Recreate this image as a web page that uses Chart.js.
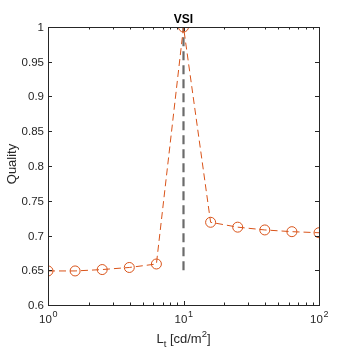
<!DOCTYPE html>
<html>
<head>
<meta charset="utf-8">
<script src="https://cdn.jsdelivr.net/npm/chart.js@4.4.0/dist/chart.umd.min.js"></script>
<style>
  html, body { margin: 0; padding: 0; background: #fff; }
  #wrap { width: 354px; height: 354px; }
</style>
</head>
<body>
<div id="wrap"><canvas id="vsi"></canvas></div>
<script>
// luminance values (cd/m^2) and quality scores
var lum = [1, 1.585, 2.512, 3.981, 6.31, 10, 15.85, 25.12, 39.81, 63.1, 100];
var quality = [0.649, 0.649, 0.651, 0.654, 0.659, 1.0, 0.719, 0.712, 0.708, 0.7055, 0.704];
var refX = [10, 10];
var refY = [0.65, 1.0];
var yTicks = [0.6, 0.65, 0.7, 0.75, 0.8, 0.85, 0.9, 0.95, 1];
var xDecades = [1, 10, 100];

var axisCol = "#262626";
var font = "Helvetica, 'Liberation Sans', Arial, sans-serif";

var pts = [];
for (var i in lum) pts.push({x: lum[i], y: quality[i]});
var refPts = [];
for (var j in refX) refPts.push({x: refX[j], y: refY[j]});

// draws box, inward ticks, labels in MATLAB style
var matlabAxes = {
  id: "matlabAxes",
  afterDraw: function(chart) {
    var c = chart.ctx, a = chart.chartArea;
    var xs = chart.scales.x, ys = chart.scales.y;
    c.save();
    c.strokeStyle = axisCol;
    c.lineWidth = 1;
    c.strokeRect(Math.round(a.left) + 0.5, Math.round(a.top) + 0.5,
      Math.round(a.right - a.left), Math.round(a.bottom - a.top));

    c.fillStyle = axisCol;
    c.font = "11.5px " + font;
    c.textAlign = "right";
    c.textBaseline = "middle";
    yTicks.forEach(function(v) {
      var py = Math.round(ys.getPixelForValue(v)) + 0.5;
      c.beginPath();
      c.moveTo(a.left, py); c.lineTo(a.left + 4, py);
      c.moveTo(a.right, py); c.lineTo(a.right - 4, py);
      c.stroke();
      c.fillText(String(v), a.left - 4, py);
    });

    // x: major + minor ticks
    for (var d = 0; d < 2; d++) {
      for (var m = 1; m <= 9; m++) {
        var v = Math.pow(10, d) * m;
        var px = Math.round(xs.getPixelForValue(v)) + 0.5;
        var len = m === 1 ? 4 : 2.5;
        c.beginPath();
        c.moveTo(px, a.bottom); c.lineTo(px, a.bottom - len);
        c.moveTo(px, a.top); c.lineTo(px, a.top + len);
        c.stroke();
      }
    }
    xDecades.forEach(function(v, k) {
      var px = xs.getPixelForValue(v);
      var base = "10", sup = String(k);
      c.font = "11.5px " + font;
      var w1 = c.measureText(base).width;
      c.font = "9px " + font;
      var w2 = c.measureText(sup).width;
      var x0 = px - (w1 + w2) / 2;
      c.textAlign = "left";
      c.textBaseline = "alphabetic";
      c.font = "11.5px " + font;
      c.fillText(base, x0, a.bottom + 18);
      c.font = "9px " + font;
      c.fillText(sup, x0 + w1 + 0.5, a.bottom + 12);
    });

    // x axis title L_t [cd/m^2]
    var cx = (a.left + a.right) / 2;
    var parts = [["L", 13, 0], ["t", 9.5, 4], [" [cd/m", 13, 0], ["2", 9.5, -6], ["]", 13, 0]];
    var total = 0;
    parts.forEach(function(p) { c.font = p[1] + "px " + font; total += c.measureText(p[0]).width; });
    var xx = cx - total / 2, by = a.bottom + 38;
    parts.forEach(function(p) {
      c.font = p[1] + "px " + font;
      c.fillText(p[0], xx, by + p[2]);
      xx += c.measureText(p[0]).width;
    });

    // y axis title
    c.save();
    c.translate(12, (a.top + a.bottom) / 2 - 2);
    c.rotate(-Math.PI / 2);
    c.textAlign = "center";
    c.textBaseline = "middle";
    c.font = "13px " + font;
    c.fillText("Quality", 0, 0);
    c.restore();

    // title
    c.font = "bold 12px " + font;
    c.textAlign = "center";
    c.textBaseline = "alphabetic";
    c.fillStyle = "#000";
    c.fillText("VSI", cx, a.top - 4);
    c.restore();
  }
};

new Chart(document.getElementById("vsi"), {
  type: "line",
  data: {
    datasets: [
      {
        label: "VSI",
        data: pts,
        borderColor: "#D95319",
        backgroundColor: "rgba(0,0,0,0)",
        borderWidth: 1,
        borderDash: [7, 4],
        pointRadius: 5,
        pointBorderWidth: 1,
        pointBorderColor: "#D95319",
        pointBackgroundColor: "rgba(0,0,0,0)",
        tension: 0,
        order: 1
      },
      {
        label: "ref",
        data: refPts,
        borderColor: "#6b6b6b",
        borderWidth: 2.2,
        borderDash: [9, 5],
        pointRadius: 0,
        order: 2
      }
    ]
  },
  options: {
    responsive: true,
    maintainAspectRatio: false,
    animation: false,
    layout: { padding: { left: 48, right: 35, top: 27, bottom: 49 } },
    plugins: { legend: { display: false }, tooltip: { enabled: false } },
    scales: {
      x: { type: "logarithmic", min: 1, max: 100, display: false },
      y: { type: "linear", min: 0.6, max: 1, display: false }
    }
  },
  plugins: [matlabAxes]
});
</script>
</body>
</html>
